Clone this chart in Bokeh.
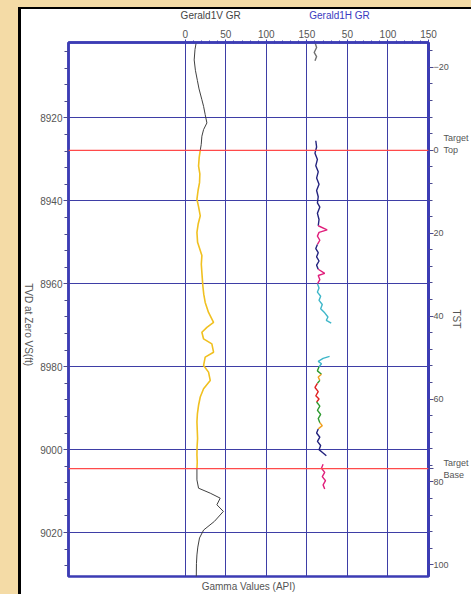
import math
from bokeh.plotting import figure
from bokeh.models import Range1d, LinearAxis, FixedTicker, SingleIntervalTicker, Span
from bokeh.layouts import column, row
from bokeh.core.properties import value
from bokeh.embed import file_html
from bokeh.resources import INLINE

# ---------------- data ----------------
track1_ticks = [0, 50, 100, 150]
track2_ticks = [0, 50, 100, 150]
tvd_major = 20
tst_ticks = [-20, 0, 20, 40, 60, 80, 100]
track_titles = ["Gerald1V  GR", "Gerald1H  GR"]
track_title_x = [33, 42]          # GR value at the title's centre, per track
track_title_color = ["#444444", "#3a3ac0"]
depth_title = "TVD at Zero VS(ft)"
depth_title_at = 8969.6
tst_title = "TST"
gr_title = "Gamma Values (API)"

target_top_tvd = 8927.8     # TST = 0
target_base_tvd = 9004.6
target_names = ["Target\nTop", "Target\nBase"]

# Gerald1V GR (vertical well) - above target (black)
v_top_depth = [8901.8, 8903.5, 8906.0, 8908.5, 8911.0, 8913.0, 8915.6, 8917.2, 8919.2, 8921.2, 8922.8, 8924.4, 8926.4, 8927.8]
v_top_gr = [13.5, 12.0, 11.0, 12.5, 15.0, 17.0, 20.5, 22.6, 24.6, 26.7, 22.6, 20.5, 19.7, 18.5]
# within target (yellow)
v_tgt_depth = [8927.8, 8929.5, 8931.6, 8933.5, 8935.6, 8937.5, 8939.6, 8941.5, 8943.6, 8945.5, 8947.6, 8950.0, 8953.2, 8955.3,
               8957.3, 8960.5, 8962.5, 8964.5, 8966.9, 8969.3, 8970.5, 8971.7, 8973.3, 8974.5, 8976.5, 8977.7, 8979.7,
               8981.3, 8983.3, 8985.3, 8987.3, 8989.3, 8991.3, 8993.3, 8995.3, 8997.3, 8999.3, 9001.3, 9003.0, 9004.6]
v_tgt_gr = [18.5, 17.2, 16.4, 18.0, 17.6, 15.8, 14.4, 16.5, 18.5, 16.0, 14.4, 15.2, 20.5, 19.8,
            20.5, 21.7, 22.8, 24.6, 28.7, 34.9, 26.7, 20.5, 22.6, 32.8, 34.9, 24.6, 22.6,
            28.7, 30.8, 22.6, 18.5, 16.4, 15.0, 14.4, 14.8, 15.2, 14.6, 14.4, 14.8, 14.4]
# below target (black)
v_bot_depth = [9004.6, 9007.3, 9009.3, 9010.5, 9011.7, 9013.3, 9014.9, 9017.3, 9019.4, 9021.3, 9023.5, 9025.4, 9027.5, 9030.6]
v_bot_gr = [14.4, 14.4, 16.4, 30.8, 43.1, 39.0, 47.0, 36.0, 22.6, 17.6, 15.5, 14.4, 13.8, 13.6]

# Gerald1H GR (horizontal well) - coloured segments
h_seg_depth = [
    [8901.8, 8903.0, 8904.2, 8905.2, 8906.2],
    [8925.5, 8927.0, 8928.5, 8930.0, 8931.5, 8933.0, 8934.5, 8936.0, 8937.5, 8939.0, 8940.5, 8941.5, 8943.0, 8944.5, 8946.0],
    [8946.0, 8947.0, 8947.6, 8948.5, 8949.5, 8950.5],
    [8950.5, 8951.5, 8952.5, 8953.5, 8954.5, 8955.5, 8956.5],
    [8956.5, 8957.5, 8958.0, 8959.0, 8960.0],
    [8960.0, 8961.0, 8962.0, 8963.0, 8964.0, 8965.0, 8966.0, 8967.0, 8968.0, 8968.8, 8969.5],
    [8977.5, 8978.0, 8978.7, 8979.3, 8980.0],
    [8980.0, 8981.0, 8981.8],
    [8981.8, 8982.5, 8983.3],
    [8983.3, 8984.0],
    [8984.0, 8985.0, 8986.0, 8987.0, 8987.8, 8988.5],
    [8988.5, 8989.5, 8990.5, 8991.5, 8992.5, 8993.5],
    [8993.5, 8994.2, 8995.0],
    [8995.0, 8996.0, 8997.0, 8998.0, 8999.0, 9000.0, 9000.8, 9001.5],
    [9003.5, 9004.5, 9005.5, 9006.5, 9007.5, 9008.5, 9009.5],
]
h_seg_gr = [
    [10, 12, 9, 12, 10],
    [11, 12, 10, 13, 11, 14, 12, 15, 12, 14, 13, 16, 13, 15, 14],
    [14, 25, 15, 13, 16, 13],
    [13, 11, 14, 12, 15, 12, 14],
    [14, 22, 14, 16, 13],
    [13, 15, 13, 17, 15, 19, 17, 22, 26, 24, 30],
    [28, 20, 14, 18, 15],
    [15, 13, 18],
    [18, 14, 16],
    [16, 13],
    [13, 10, 14, 11, 15, 12],
    [12, 16, 13, 17, 14, 16],
    [16, 19, 14],
    [14, 12, 16, 13, 17, 15, 20, 24],
    [20, 18, 22, 19, 23, 20, 22],
]
h_seg_color = ["#707070", "#23237e", "#e0207c", "#23237e", "#e0207c", "#3fb7c9", "#3fb7c9",
               "#2e9a30", "#f0a020", "#2e9a30", "#e02020", "#2e9a30", "#f0a020", "#23237e", "#e0207c"]

# ---------------- styling ----------------
BLUE = "#3c3cb4"
GRID = "#3e3ea6"
FONT = "Liberation Sans"
TXT = "#555555"
NB = "\u00a0"
XR = Range1d(-144, 300)          # track 1 GR scale; track 2 = same scale shifted by 150
YR = Range1d(9030.6, 8901.8)     # TVD, increasing downwards
T2_SHIFT = 150
LEFT_W = 14
TITLE_H = 16


def bare(fig):
    fig.outline_line_color = None
    for g in fig.grid:
        g.grid_line_color = None
        g.visible = False


# ---------------- depth title strip (left) ----------------
pl = figure(width=LEFT_W, height=TITLE_H + 569, x_range=Range1d(0, 1), y_range=YR, output_backend="svg",
            toolbar_location=None, x_axis_location=None, y_axis_location=None,
            min_border_left=0, min_border_right=0, min_border_top=TITLE_H + 17, min_border_bottom=16,
            background_fill_color="white", border_fill_color="white")
bare(pl)
pl.text(x=[0.5], y=[depth_title_at], text=[depth_title], angle=-math.pi / 2, text_color=TXT,
        text_font=value(FONT), text_font_size=value("10px"), text_align="center", text_baseline="middle")

# ---------------- track title strip (top) ----------------
pt = figure(width=450 - LEFT_W, height=TITLE_H, x_range=XR, y_range=Range1d(0, 1), output_backend="svg",
            toolbar_location=None, x_axis_location=None, y_axis_location=None,
            min_border_left=47 - LEFT_W, min_border_right=43, min_border_top=0, min_border_bottom=0,
            background_fill_color="white", border_fill_color="white")
bare(pt)
pt.text(x=[track_title_x[0], track_title_x[1] + T2_SHIFT], y=[0.6, 0.6], text=track_titles,
        text_color=track_title_color, text_font=value(FONT), text_font_size=value("10px"),
        text_align="center", text_baseline="middle")

# ---------------- main plot ----------------
p = figure(width=450 - LEFT_W, height=569, x_range=XR, y_range=YR,
           x_axis_location="above", output_backend="svg", toolbar_location=None,
           min_border_left=47 - LEFT_W, min_border_right=43, min_border_top=17, min_border_bottom=16,
           background_fill_color="white", border_fill_color="white")
p.extra_x_ranges = {"t2": Range1d(XR.start - T2_SHIFT, XR.end - T2_SHIFT)}
p.extra_y_ranges = {"tst": Range1d(YR.start - target_top_tvd, YR.end - target_top_tvd)}

p.outline_line_color = BLUE
p.outline_line_width = 2.5


def style_axis(ax, tick_color, tin, tout, min_in, min_out, lw, size="10px"):
    ax.axis_line_color = BLUE
    ax.axis_line_width = lw
    ax.major_tick_line_color = tick_color
    ax.minor_tick_line_color = tick_color
    ax.major_tick_in = tin
    ax.major_tick_out = tout
    ax.minor_tick_in = min_in
    ax.minor_tick_out = min_out
    ax.major_label_standoff = 2
    ax.major_label_text_font = FONT
    ax.major_label_text_font_size = size
    ax.major_label_text_color = TXT
    ax.axis_label_text_font = FONT
    ax.axis_label_text_font_size = "10px"
    ax.axis_label_text_font_style = "normal"
    ax.axis_label_text_color = TXT


# top axis (two tracks share it)
tick_pos = track1_ticks + [T2_SHIFT + t for t in track2_ticks[1:]]
tick_lab = {float(a): str(b) for a, b in zip(tick_pos, track1_ticks + track2_ticks[1:])}
minor = [m for m in range(10, 300, 10) if m % 50 != 0]
xa = p.xaxis[0]
xa.ticker = FixedTicker(ticks=tick_pos, minor_ticks=minor)
xa.major_label_overrides = tick_lab
style_axis(xa, BLUE, 2, 3, 1, 2, 2.5)

# left axis: TVD
ya = p.yaxis[0]
ya.ticker = SingleIntervalTicker(interval=tvd_major, num_minor_ticks=5)
style_axis(ya, "#4a4a90", 0, 5, 0, 4, 2.5)
ya.major_label_standoff = 1

# right axis: TST, with the target names next to their depths
base_tst = round(target_base_tvd - target_top_tvd, 1)
r_ticks = sorted(tst_ticks + [base_tst])
r_minor = [m for m in range(-24, 104, 4) if m not in tst_ticks]
ra = LinearAxis(y_range_name="tst", ticker=FixedTicker(ticks=r_ticks, minor_ticks=r_minor))
style_axis(ra, "#4a4a90", 0, 5, 0, 4, 3, size="9px")
ra.major_label_standoff = 0
top_l1, top_l2 = target_names[0].split("\n")
base_l1, base_l2 = target_names[1].split("\n")
ra.major_label_overrides = {
    0.0: NB * 4 + top_l1 + "\n0" + NB * 2 + top_l2 + "\n" + NB,
    float(base_tst): NB * 4 + base_l1 + "\n" + NB * 4 + base_l2,
}
ra.axis_label = tst_title
p.add_layout(ra, "right")
try:
    ra.axis_label_standoff = -15
except Exception:
    ra.axis_label_standoff = 0
try:
    ra.axis_label_orientation = -math.pi / 2
except Exception:
    pass

# bottom: axis title only
ba = LinearAxis(ticker=FixedTicker(ticks=[]))
ba.axis_line_color = None
ba.major_tick_out = 0
ba.major_tick_in = 0
ba.minor_tick_out = 0
ba.minor_tick_in = 0
ba.major_label_standoff = 0
ba.axis_label = gr_title
ba.axis_label_standoff = 4
ba.axis_label_text_font = FONT
ba.axis_label_text_font_size = "10px"
ba.axis_label_text_font_style = "normal"
ba.axis_label_text_color = TXT
p.add_layout(ba, "below")

p.xgrid.ticker = FixedTicker(ticks=tick_pos[:-1])
p.xgrid.grid_line_color = GRID
p.xgrid.grid_line_width = 1
p.ygrid.grid_line_color = GRID
p.ygrid.grid_line_width = 1

for d in (target_top_tvd, target_base_tvd):
    p.add_layout(Span(location=d, dimension="width", line_color="#ff4a4a", line_width=1.2))

# curves
p.line(v_top_gr, v_top_depth, line_color="#404040", line_width=1)
p.line(v_tgt_gr, v_tgt_depth, line_color="#f0c020", line_width=1.6)
p.line(v_bot_gr, v_bot_depth, line_color="#404040", line_width=1)
for dd, gg, cc in zip(h_seg_depth, h_seg_gr, h_seg_color):
    p.line(gg, dd, x_range_name="t2", line_color=cc, line_width=1.4)

inner = row(pl, column(pt, p, styles={"background-color": "white"}), styles={"background-color": "white"})
mid = column(inner, styles={"background-color": "black", "padding-left": "3px", "padding-top": "2px"})
outer = column(mid, styles={"background-color": "#f4dba6", "padding-left": "18px", "padding-top": "7px"})

open("out.html", "w").write(file_html(outer, INLINE))
